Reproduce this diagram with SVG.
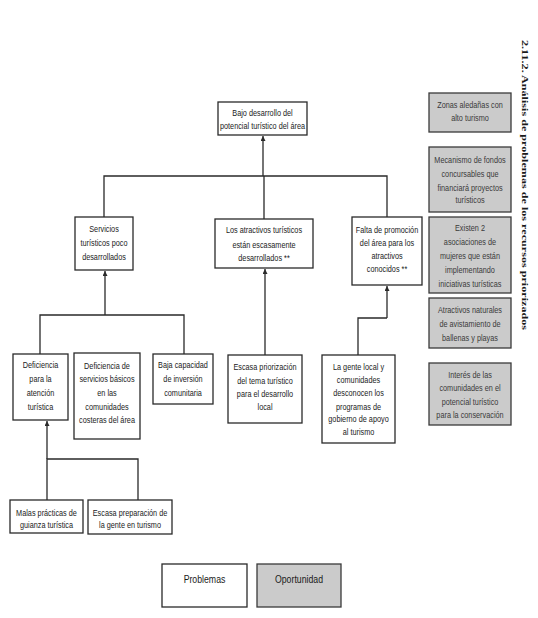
<svg xmlns="http://www.w3.org/2000/svg" width="538" height="618" viewBox="0 0 538 618">
<style>
.bg{fill:#ffffff}
.box{fill:#ffffff;stroke:#2a2a2a;stroke-width:1.3}
.op{fill:#cbcbcb;stroke:#3a3a3a;stroke-width:1.3}
.t{font-family:"Liberation Sans",Arial,sans-serif;font-size:9.6px;fill:#1a1a1a;text-anchor:middle}
.tg{font-family:"Liberation Sans",Arial,sans-serif;font-size:9.6px;fill:#3a3a3a;text-anchor:middle}
.lg{font-family:"Liberation Sans",Arial,sans-serif;font-size:11.5px;fill:#1a1a1a;text-anchor:middle}
.ttl{font-family:"Liberation Serif","Times New Roman",serif;font-size:9px;font-weight:bold;fill:#1a1a1a}
.c{fill:none;stroke:#2a2a2a;stroke-width:1.3}
</style>
<defs>
<marker id="ah" viewBox="0 0 10 10" refX="10" refY="5" markerWidth="5" markerHeight="5" markerUnits="userSpaceOnUse" orient="auto"><path d="M0,0 L10,5 L0,10 z" fill="#2a2a2a"/></marker>
</defs>
<rect class="bg" x="0" y="0" width="538" height="618"/>

<text class="ttl" transform="translate(522,40) rotate(90)" textLength="290" lengthAdjust="spacingAndGlyphs">2.11.2. Análisis de problemas de los recursos priorizados</text>

<g id="connectors">
<line class="c" x1="263" y1="176" x2="263" y2="136" marker-end="url(#ah)"/>
<path class="c" d="M104,217 V176 H387 V217 M264,176 V219"/>
<line class="c" x1="105" y1="315" x2="105" y2="271" marker-end="url(#ah)"/>
<path class="c" d="M40,354 V315 H184 V354"/>
<line class="c" x1="265" y1="355" x2="265" y2="269" marker-end="url(#ah)"/>
<line class="c" x1="387" y1="318" x2="387" y2="286" marker-end="url(#ah)"/>
<path class="c" d="M387,318 H358 V355"/>
<line class="c" x1="47" y1="459" x2="47" y2="421" marker-end="url(#ah)"/>
<path class="c" d="M47,500 V459 H138 V500"/>
</g>

<g id="n-bajo">
<rect class="box" x="218" y="102" width="89" height="33"/>
<g transform="translate(262.5,0) scale(0.76,1)"><text class="t"><tspan x="0" y="116.5">Bajo desarrollo del</tspan><tspan x="0" y="129">potencial turístico del área</tspan></text></g>
</g>

<g id="n-servicios">
<rect class="box" x="75" y="217" width="58" height="53"/>
<g transform="translate(104,0) scale(0.76,1)"><text class="t"><tspan x="0" y="232">Servicios</tspan><tspan x="0" y="246">turísticos poco</tspan><tspan x="0" y="260">desarrollados</tspan></text></g>
</g>

<g id="n-atractivos">
<rect class="box" x="215" y="219" width="98" height="49"/>
<g transform="translate(264,0) scale(0.76,1)"><text class="t"><tspan x="0" y="233">Los atractivos turísticos</tspan><tspan x="0" y="248">están escasamente</tspan><tspan x="0" y="261">desarrollados **</tspan></text></g>
</g>

<g id="n-falta">
<rect class="box" x="352" y="217" width="70" height="68"/>
<g transform="translate(387,0) scale(0.76,1)"><text class="t"><tspan x="0" y="233">Falta de promoción</tspan><tspan x="0" y="246">del área para los</tspan><tspan x="0" y="259">atractivos</tspan><tspan x="0" y="272">conocidos **</tspan></text></g>
</g>

<g id="n-deficiencia-atencion">
<rect class="box" x="13" y="354" width="55" height="66"/>
<g transform="translate(40.5,0) scale(0.76,1)"><text class="t"><tspan x="0" y="368">Deficiencia</tspan><tspan x="0" y="382">para la</tspan><tspan x="0" y="396">atención</tspan><tspan x="0" y="410">turística</tspan></text></g>
</g>

<g id="n-deficiencia-servicios">
<rect class="box" x="74" y="353" width="66" height="86"/>
<g transform="translate(107,0) scale(0.76,1)"><text class="t"><tspan x="0" y="369">Deficiencia de</tspan><tspan x="0" y="382">servicios básicos</tspan><tspan x="0" y="396">en las</tspan><tspan x="0" y="410">comunidades</tspan><tspan x="0" y="423">costeras del área</tspan></text></g>
</g>

<g id="n-baja">
<rect class="box" x="153" y="354" width="60" height="50"/>
<g transform="translate(183,0) scale(0.76,1)"><text class="t"><tspan x="0" y="368">Baja capacidad</tspan><tspan x="0" y="382">de inversión</tspan><tspan x="0" y="396">comunitaria</tspan></text></g>
</g>

<g id="n-escasa-prior">
<rect class="box" x="228" y="355" width="74" height="68"/>
<g transform="translate(265,0) scale(0.76,1)"><text class="t"><tspan x="0" y="370">Escasa priorización</tspan><tspan x="0" y="384">del tema turístico</tspan><tspan x="0" y="397">para el desarrollo</tspan><tspan x="0" y="410">local</tspan></text></g>
</g>

<g id="n-gente">
<rect class="box" x="322" y="355" width="73" height="88"/>
<g transform="translate(358.5,0) scale(0.76,1)"><text class="t"><tspan x="0" y="370">La gente local y</tspan><tspan x="0" y="383">comunidades</tspan><tspan x="0" y="396">desconocen los</tspan><tspan x="0" y="410">programas de</tspan><tspan x="0" y="422">gobierno de apoyo</tspan><tspan x="0" y="435">al turismo</tspan></text></g>
</g>

<g id="n-malas">
<rect class="box" x="10" y="500" width="73" height="33"/>
<g transform="translate(46.5,0) scale(0.76,1)"><text class="t"><tspan x="0" y="516">Malas prácticas de</tspan><tspan x="0" y="528">guianza turística</tspan></text></g>
</g>

<g id="n-escasa-prep">
<rect class="box" x="88" y="500" width="84" height="34"/>
<g transform="translate(130,0) scale(0.76,1)"><text class="t"><tspan x="0" y="516">Escasa preparación de</tspan><tspan x="0" y="528">la gente en turismo</tspan></text></g>
</g>

<g id="o-zonas">
<rect class="op" x="429" y="93" width="82" height="39"/>
<g transform="translate(470,0) scale(0.76,1)"><text class="tg"><tspan x="0" y="108">Zonas aledañas con</tspan><tspan x="0" y="121">alto turismo</tspan></text></g>
</g>

<g id="o-mecanismo">
<rect class="op" x="429" y="147" width="82" height="65"/>
<g transform="translate(470,0) scale(0.76,1)"><text class="tg"><tspan x="0" y="163">Mecanismo de fondos</tspan><tspan x="0" y="177">concursables que</tspan><tspan x="0" y="191">financiará proyectos</tspan><tspan x="0" y="203">turísticos</tspan></text></g>
</g>

<g id="o-asociaciones">
<rect class="op" x="429" y="217" width="82" height="76"/>
<g transform="translate(470,0) scale(0.76,1)"><text class="tg"><tspan x="0" y="231">Existen 2</tspan><tspan x="0" y="245">asociaciones de</tspan><tspan x="0" y="259">mujeres que están</tspan><tspan x="0" y="273">implementando</tspan><tspan x="0" y="287">iniciativas turísticas</tspan></text></g>
</g>

<g id="o-atractivos">
<rect class="op" x="429" y="298" width="82" height="50"/>
<g transform="translate(470,0) scale(0.76,1)"><text class="tg"><tspan x="0" y="313">Atractivos naturales</tspan><tspan x="0" y="327">de avistamiento de</tspan><tspan x="0" y="341">ballenas y playas</tspan></text></g>
</g>

<g id="o-interes">
<rect class="op" x="429" y="363" width="82" height="62"/>
<g transform="translate(470,0) scale(0.76,1)"><text class="tg"><tspan x="0" y="378">Interés de las</tspan><tspan x="0" y="391">comunidades en el</tspan><tspan x="0" y="405">potencial turístico</tspan><tspan x="0" y="418">para la conservación</tspan></text></g>
</g>

<g id="legend-problemas">
<rect class="box" x="162" y="564" width="85" height="43"/>
<g transform="translate(204.5,0) scale(0.76,1)"><text class="lg" x="0" y="583">Problemas</text></g>
</g>
<g id="legend-oportunidad">
<rect class="op" x="257" y="564" width="84" height="43"/>
<g transform="translate(299,0) scale(0.76,1)"><text class="lg" x="0" y="583">Oportunidad</text></g>
</g>
</svg>
